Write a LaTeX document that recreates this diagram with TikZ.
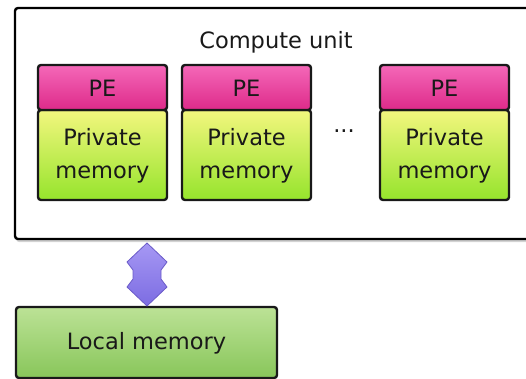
\documentclass[tikz,border=0pt]{standalone}
\usepackage{fontspec}
\setmainfont{DejaVu Sans}
\usetikzlibrary{shadows,calc}
\definecolor{pinktop}{HTML}{F468B8}
\definecolor{pinkbot}{HTML}{DE2A8A}
\definecolor{ylwtop}{HTML}{F2F67E}
\definecolor{ylwbot}{HTML}{96E42C}
\definecolor{grntop}{HTML}{BCE296}
\definecolor{grnbot}{HTML}{88C65A}
\definecolor{arrtop}{HTML}{A698F4}
\definecolor{arrbot}{HTML}{7C6CE2}
\definecolor{arrline}{HTML}{6A5AC8}
\tikzset{
  unitbox/.style={draw=black, line width=2.4pt, rounded corners=3pt, fill=white,
    drop shadow={shadow xshift=1pt, shadow yshift=-3pt, opacity=0.35}},
  pebox/.style={draw=black!90, line width=2.4pt, rounded corners=3pt,
    top color=pinktop, bottom color=pinkbot},
  privbox/.style={draw=black!90, line width=2.4pt, rounded corners=3pt,
    top color=ylwtop, bottom color=ylwbot},
  localbox/.style={draw=black!90, line width=2.4pt, rounded corners=3pt,
    top color=grntop, bottom color=grnbot},
  lbl/.style={font=\fontsize{22.5}{33}\selectfont, text=black!90, align=center, inner sep=0pt},
  twoway/.style={draw=arrline, line width=0.8pt, line join=round,
    top color=arrtop, bottom color=arrbot}
}
\begin{document}
\begin{tikzpicture}[x=1pt, y=-1pt]
  \useasboundingbox (0,0) rectangle (526,378);
  \clip (0,0) rectangle (526,378);

  % compute unit frame (runs off the right edge)
  \draw[unitbox] (15,8) rectangle (560,239);
  \node[lbl] (cu) at (276,42) {Compute unit};

  % processing elements with their private memories
  \foreach \n/\x in {a/38, b/182, c/380} {
    \draw[privbox] (\x,110) rectangle ++(129,90);
    \draw[pebox] (\x,65) rectangle ++(129,45);
    \node[lbl] (pe\n) at ($(\x,88)+(64.5,0)$) {PE};
    \node[lbl] (pm\n) at ($(\x,156)+(64.5,0)$) {Private\\memory};
  }
  \node[lbl] (dots) at (344,131) {...};

  % local memory
  \draw[localbox] (16,307) rectangle (277,378);
  \node[lbl] (lm) at (146.5,343) {Local memory};

  % two-way link between compute unit and local memory
  \draw[twoway] (147,243) -- (167,262) -- (161,270) -- (161,279) -- (167,287)
    -- (147,306) -- (127,287) -- (133,279) -- (133,270) -- (127,262) -- cycle;
\end{tikzpicture}
\end{document}
